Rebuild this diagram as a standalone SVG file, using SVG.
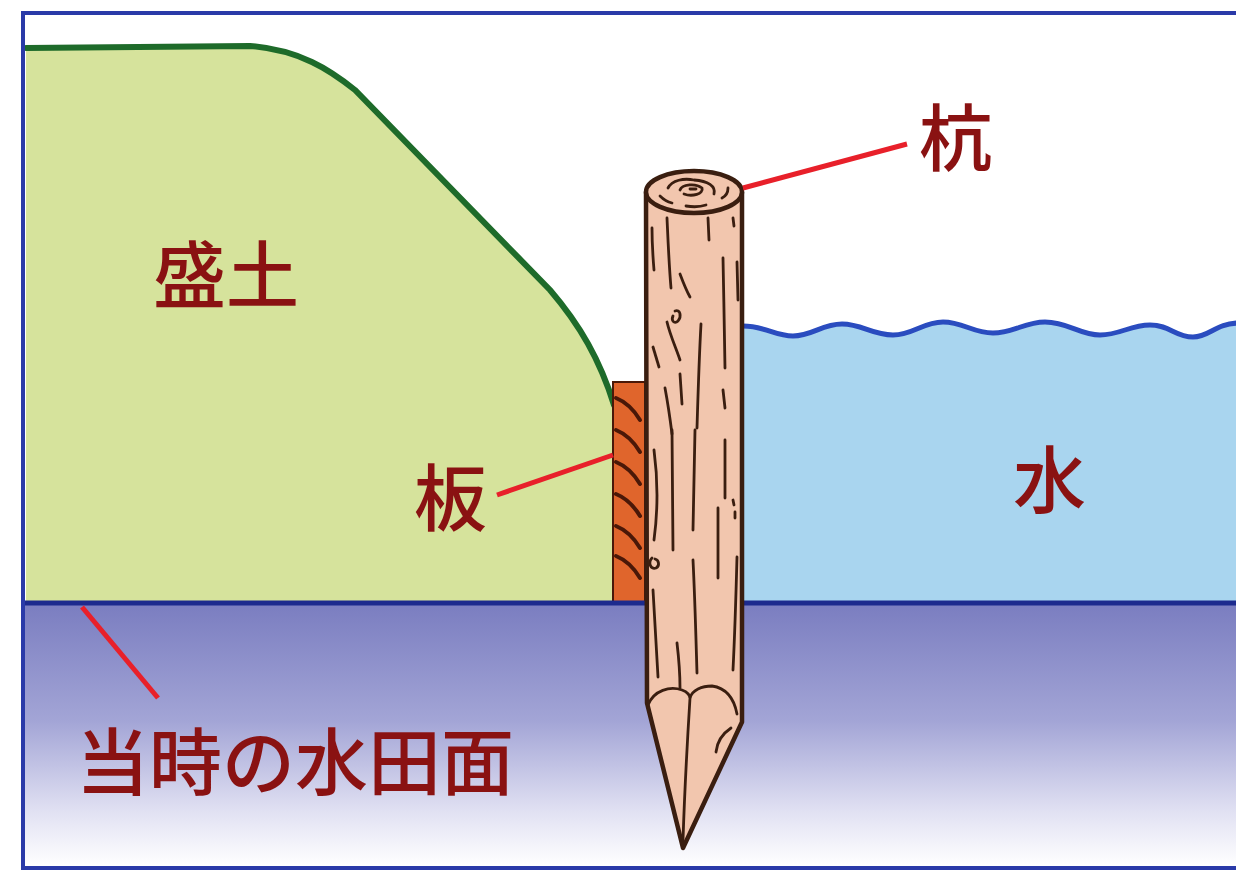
<svg xmlns="http://www.w3.org/2000/svg" width="1236" height="873" viewBox="0 0 1236 873">
  <defs>
    <linearGradient id="groundGrad" x1="0" y1="603" x2="0" y2="866" gradientUnits="userSpaceOnUse">
      <stop offset="0" stop-color="#7a7dc0"/>
      <stop offset="0.45" stop-color="#a3a5d6"/>
      <stop offset="0.8" stop-color="#e2e2f3"/>
      <stop offset="1" stop-color="#ffffff"/>
    </linearGradient>
    <style>
      .label { font-family: "Noto Sans CJK JP", "Noto Sans CJK SC", sans-serif; font-size: 73px; fill: #8a1212; font-weight: 500; }
      .leader { stroke: #e8202a; stroke-width: 5; stroke-linecap: butt; fill: none; }
      .grain { stroke: #3a1e10; stroke-width: 2.8; fill: none; stroke-linecap: round; }
      .outline { stroke: #3a1e10; stroke-width: 4.5; stroke-linejoin: round; }
      .plankline { stroke: #4a1808; stroke-width: 4; fill: none; stroke-linecap: round; }
    </style>
  </defs>

  <rect x="0" y="0" width="1236" height="873" fill="#ffffff"/>

  <!-- ground below the old paddy surface -->
  <g id="ground">
    <rect x="25" y="603" width="1215" height="264" fill="url(#groundGrad)"/>
  </g>

  <!-- embankment fill -->
  <g id="embankment">
    <path d="M26,48 L250,46 C300,50 330,70 355,90 L550,290 C580,325 600,360 614,405 L614,603 L26,603 Z" fill="#d6e39c"/>
    <path d="M26,48 L250,46 C300,50 330,70 355,90 L550,290 C580,325 600,360 614,405" fill="none" stroke="#1e6b2a" stroke-width="6" stroke-linecap="round"/>
  </g>

  <!-- water -->
  <g id="water">
    <path d="M743,326 C765,326 775,336 793,336 C812,336 822,324 842,324 C862,324 872,335 893,335 C913,335 923,322 943,322 C963,322 973,333 993,333 C1013,333 1025,322 1045,322 C1068,322 1080,335 1100,335 C1120,335 1130,325 1150,325 C1170,325 1175,337 1193,337 C1210,337 1215,323 1240,323 L1240,603 L743,603 Z" fill="#a9d5ef"/>
    <path d="M743,326 C765,326 775,336 793,336 C812,336 822,324 842,324 C862,324 872,335 893,335 C913,335 923,322 943,322 C963,322 973,333 993,333 C1013,333 1025,322 1045,322 C1068,322 1080,335 1100,335 C1120,335 1130,325 1150,325 C1170,325 1175,337 1193,337 C1210,337 1215,323 1240,323" fill="none" stroke="#2a4cbf" stroke-width="5"/>
  </g>

  <!-- plank -->
  <g id="plank">
    <rect x="613" y="382" width="32" height="220" fill="#e0652c" stroke="#4a1808" stroke-width="2"/>
    <path class="plankline" d="M616,398 C626,402 634,410 640,420"/>
    <path class="plankline" d="M616,430 C626,434 634,442 640,452"/>
    <path class="plankline" d="M616,462 C626,466 634,474 640,484"/>
    <path class="plankline" d="M616,494 C626,498 634,506 640,516"/>
    <path class="plankline" d="M616,526 C626,530 634,538 640,548"/>
    <path class="plankline" d="M616,556 C626,560 634,568 640,578"/>
  </g>

  <!-- old paddy surface line -->
  <g id="paddy-surface">
    <line x1="25" y1="603" x2="1240" y2="603" stroke="#1c2a8e" stroke-width="5"/>
  </g>

  <!-- wooden pile -->
  <g id="pile">
    <path class="outline" d="M646,192 L647,703 L683,848 L742,722 L742,192 Z" fill="#f2c6ae"/>
    <ellipse class="outline" cx="694" cy="192" rx="48" ry="21" fill="#f2c6ae"/>
    <!-- end grain rings -->
    <path class="grain" d="M668,188 C672,180 684,178 694,180 C708,181 716,186 714,194"/>
    <path class="grain" d="M680,190 C682,184 696,183 702,188 C704,194 692,197 684,194"/>
    <path class="grain" d="M690,189 L696,189"/>
    <path class="grain" d="M660,196 C664,200 668,202 672,203"/>
    <path class="grain" d="M722,198 C726,196 728,192 728,188"/>
    <path class="grain" d="M686,206 C692,207 700,207 706,205"/>
    <!-- bark grain -->
    <path class="grain" d="M667,218 C668,240 669,265 671,288"/>
    <path class="grain" d="M708,218 L709,240"/>
    <path class="grain" d="M733,218 L734,226"/>
    <path class="grain" d="M652,228 C652,245 653,258 654,270"/>
    <path class="grain" d="M680,274 C683,282 686,290 690,297"/>
    <path class="grain" d="M723,258 C724,295 724,330 725,368"/>
    <path class="grain" d="M737,262 L738,300"/>
    <path class="grain" d="M675,311 C680,309 682,316 678,321 C674,325 671,320 673,316"/>
    <path class="grain" d="M667,322 C670,335 676,348 680,360"/>
    <path class="grain" d="M701,324 C699,360 698,395 697,428"/>
    <path class="grain" d="M653,347 L659,367"/>
    <path class="grain" d="M680,374 L682,404"/>
    <path class="grain" d="M665,388 C668,404 670,418 672,434"/>
    <path class="grain" d="M723,390 L725,408"/>
    <path class="grain" d="M654,450 C658,480 658,510 654,540"/>
    <path class="grain" d="M672,430 L673,550"/>
    <path class="grain" d="M695,430 L693,530"/>
    <path class="grain" d="M725,440 L725,498"/>
    <path class="grain" d="M718,508 L718,578"/>
    <path class="grain" d="M733,500 L734,505"/>
    <path class="grain" d="M735,512 L735,518"/>
    <path class="grain" d="M652,558 C648,562 650,570 656,568 C660,566 659,560 655,559"/>
    <path class="grain" d="M653,590 L658,677"/>
    <path class="grain" d="M693,560 C695,600 696,640 697,673"/>
    <path class="grain" d="M737,557 C736,595 735,630 733,670"/>
    <path class="grain" d="M677,643 C679,660 680,675 680,688"/>
    <!-- split tip -->
    <path class="grain" d="M648,705 C654,690 670,686 682,690 C688,692 690,696 690,698 C692,690 702,686 712,686 C726,688 734,698 737,714"/>
    <path class="grain" d="M690,698 C688,730 685,780 683,840"/>
    <path class="grain" d="M731,728 C722,734 717,742 716,752"/>
  </g>

  <!-- leader lines -->
  <g id="connectors">
    <line class="leader" x1="743" y1="188" x2="907" y2="144"/>
    <line class="leader" x1="497" y1="495" x2="613" y2="455"/>
    <line class="leader" x1="82" y1="607" x2="158" y2="698"/>
  </g>

  <!-- labels -->
  <g id="label-morido"><text class="label" x="153" y="302">盛土</text></g>
  <g id="label-kui"><text class="label" x="919" y="165">杭</text></g>
  <g id="label-ita"><text class="label" x="414" y="525">板</text></g>
  <g id="label-mizu"><text class="label" x="1013" y="507">水</text></g>
  <g id="label-suidenmen"><text class="label" x="76" y="789">当時の水田面</text></g>

  <!-- frame -->
  <rect x="23" y="13" width="1240" height="855" fill="none" stroke="#2a3aa8" stroke-width="4"/>
</svg>
